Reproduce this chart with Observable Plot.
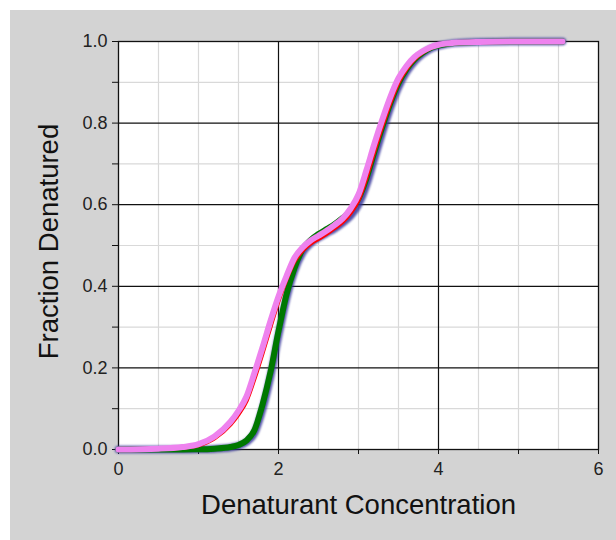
<!DOCTYPE html>
<html>
<head>
<meta charset="utf-8">
<script src="https://cdn.jsdelivr.net/npm/d3@7"></script>
<script src="https://cdn.jsdelivr.net/npm/@observablehq/plot@0.6"></script>
<style>
  html, body { margin: 0; padding: 0; background: #ffffff; }
  #panel { position: absolute; left: 10px; top: 10px; width: 606px; height: 530px; background: #d3d3d3; }
  #panel svg { overflow: visible; }
</style>
</head>
<body>
<div id="panel"></div>
<script>
// Denaturant concentration sample points
const conc = [0,0.5,0.8,1.0,1.2,1.4,1.5,1.6,1.7,1.8,1.9,2.0,2.1,2.2,2.3,2.4,2.5,2.6,2.7,2.8,2.9,3.0,3.1,3.2,3.3,3.4,3.5,3.6,3.7,3.8,3.9,4.0,4.2,4.5,5.0,5.55];
// Fraction denatured, four series
const blueSeries  = [0,0,0.0002,0.0004,0.0015,0.005,0.009,0.018,0.04,0.098,0.178,0.278,0.37,0.438,0.482,0.505,0.519,0.53,0.541,0.555,0.572,0.6,0.648,0.713,0.778,0.838,0.888,0.925,0.951,0.969,0.982,0.989,0.996,0.999,1.0,1.0];
const greenSeries = [0,0,0.0002,0.0005,0.002,0.006,0.011,0.022,0.048,0.11,0.19,0.29,0.38,0.445,0.49,0.513,0.528,0.54,0.552,0.567,0.585,0.615,0.665,0.73,0.792,0.85,0.898,0.932,0.956,0.972,0.984,0.99,0.996,0.999,1.0,1.0];
const redSeries   = [0,0.002,0.005,0.011,0.028,0.062,0.087,0.12,0.175,0.237,0.302,0.365,0.418,0.462,0.488,0.505,0.517,0.529,0.543,0.558,0.58,0.612,0.668,0.733,0.795,0.852,0.9,0.933,0.957,0.973,0.984,0.991,0.997,0.999,1.0,1.0];
const pinkSeries  = [0,0.002,0.006,0.013,0.032,0.068,0.095,0.13,0.188,0.25,0.315,0.375,0.425,0.47,0.495,0.512,0.524,0.536,0.55,0.566,0.59,0.625,0.685,0.75,0.81,0.865,0.91,0.94,0.962,0.976,0.986,0.992,0.997,0.999,1.0,1.0];

// Ticks and grid
const xTicks = [0,1,2,3,4,5,6];
const xLabels = [0,2,4,6];
const yTicks = [0,0.1,0.2,0.3,0.4,0.5,0.6,0.7,0.8,0.9,1.0];
const yLabels = [0,0.2,0.4,0.6,0.8,1.0];
const xMinorGrid = [0.5,1,1.5,2.5,3,3.5,4.5,5,5.5];
const xMajorGrid = [2,4];
const yMinorGrid = [0.1,0.3,0.5,0.7,0.9];
const yMajorGrid = [0.2,0.4,0.6,0.8];

const xTitle = "Denaturant Concentration";
const yTitle = "Fraction Denatured";

const toRows = (ys) => conc.map((x, i) => ({x, y: ys[i]}));

const fontFamily = "'Liberation Sans', Arial, sans-serif";

const chart = Plot.plot({
  width: 606,
  height: 530,
  marginLeft: 108,
  marginRight: 18,
  marginTop: 31,
  marginBottom: 91,
  style: { background: "transparent", fontFamily, overflow: "visible" },
  x: { domain: [0, 6] },
  y: { domain: [0, 1] },
  marks: [
    Plot.frame({ fill: "white", stroke: null }),
    Plot.ruleX(xMinorGrid, { stroke: "#d9d9d9", strokeWidth: 1.2 }),
    Plot.ruleY(yMinorGrid, { stroke: "#d9d9d9", strokeWidth: 1.2 }),
    Plot.ruleX(xMajorGrid, { stroke: "#111", strokeWidth: 1.2 }),
    Plot.ruleY(yMajorGrid, { stroke: "#111", strokeWidth: 1.2 }),
    Plot.frame({ stroke: "#111", strokeWidth: 1.3 }),
    Plot.axisY({ ticks: yTicks, tickSize: 6, tickFormat: () => "", label: null, stroke: "#111" }),
    Plot.axisY({ ticks: yLabels, tickSize: 0, tickPadding: 11, tickFormat: d => d.toFixed(1), label: null, fontSize: 18, fill: "#222" }),
    Plot.axisX({ ticks: xTicks, tickSize: 5, tickFormat: () => "", label: null, stroke: "#111" }),
    Plot.axisX({ ticks: xLabels, tickSize: 0, tickPadding: 13, tickFormat: d => String(d), label: null, fontSize: 18, fill: "#222" }),
    Plot.line(toRows(blueSeries), { x: "x", y: "y", stroke: "#34349a", strokeWidth: 7.5, strokeOpacity: 0.85, curve: "monotone-x", imageFilter: "blur(0.8px)" }),
    Plot.line(toRows(greenSeries), { x: "x", y: "y", stroke: "#007800", strokeWidth: 6, curve: "monotone-x" }),
    Plot.line(toRows(redSeries), { x: "x", y: "y", stroke: "#ff0000", strokeWidth: 4.5, curve: "monotone-x" }),
    Plot.line(toRows(pinkSeries), { x: "x", y: "y", stroke: "#ee82ee", strokeWidth: 6, curve: "monotone-x" }),
    Plot.text([xTitle], { frameAnchor: "bottom", dy: 64, fontSize: 27.5, fill: "#111", fontFamily }),
    Plot.text([yTitle], { frameAnchor: "left", textAnchor: "middle", dx: -69, dy: -4, rotate: -90, fontSize: 27.5, fill: "#111", fontFamily })
  ]
});
document.getElementById("panel").appendChild(chart);
</script>
</body>
</html>
